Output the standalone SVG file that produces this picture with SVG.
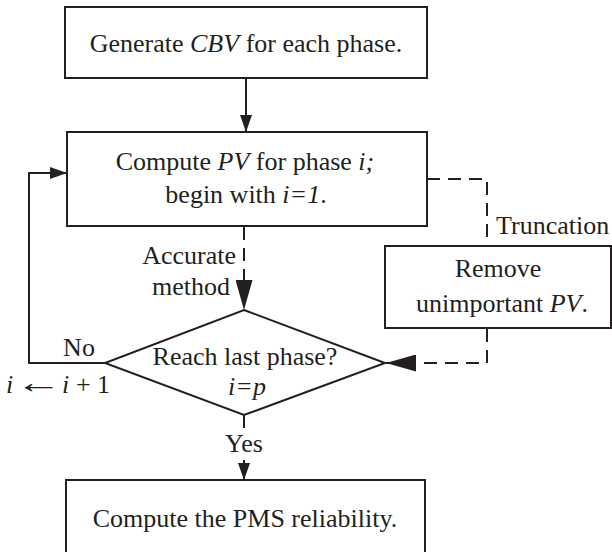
<svg xmlns="http://www.w3.org/2000/svg" width="612" height="552" viewBox="0 0 612 552">
<style>
  .box { fill: #ffffff; stroke: #231f20; stroke-width: 2; }
  .ln { fill: none; stroke: #231f20; stroke-width: 2; }
  .dash { stroke-dasharray: 13 8; }
  text { font-family: "Liberation Serif", "Times New Roman", serif; font-size: 26px; fill: #231f20; }
  .mid { text-anchor: middle; }
  .end { text-anchor: end; }
  .it { font-style: italic; }
</style>
<defs>
  <marker id="arrS" markerUnits="userSpaceOnUse" viewBox="0 0 17 12" refX="17" refY="6" markerWidth="17" markerHeight="12" orient="auto">
    <path d="M0,0 L17,6 L0,12 Z" fill="#231f20"/>
  </marker>
  <marker id="arrL" markerUnits="userSpaceOnUse" viewBox="0 0 30 17" refX="30" refY="8.5" markerWidth="30" markerHeight="17" orient="auto">
    <path d="M0,0 L30,8.5 L0,17 Z" fill="#231f20"/>
  </marker>
</defs>
<rect width="612" height="552" fill="#ffffff"/>

<g id="connectors">
  <line class="ln" x1="246" y1="78" x2="246" y2="132" marker-end="url(#arrS)"/>
  <line class="ln dash" x1="244" y1="227" x2="244" y2="310" marker-end="url(#arrL)"/>
  <polyline class="ln dash" points="427,179 487,179 487,246"/>
  <polyline class="ln dash" points="487,329 487,363 386,363" marker-end="url(#arrL)"/>
  <polyline class="ln" points="105,363 29,363 29,173 67,173" marker-end="url(#arrS)"/>
  <line class="ln" x1="244" y1="415" x2="244" y2="428"/>
  <line class="ln" x1="244" y1="460" x2="244" y2="480" marker-end="url(#arrS)"/>
  <text class="end" x="236" y="264">Accurate</text>
  <text class="end" x="230" y="295">method</text>
  <text x="496" y="234">Truncation</text>
  <text class="mid" x="79" y="356">No</text>
  <text y="393"><tspan class="it" x="6">i</tspan><tspan class="it" x="62">i</tspan><tspan x="76">+</tspan><tspan x="97">1</tspan></text>
  <text transform="translate(15,393) scale(1.8,1.2)">←</text>
  <text class="mid" x="244" y="452">Yes</text>
</g>

<g id="node-generate">
  <rect class="box" x="65" y="7" width="362" height="71"/>
  <text class="mid" x="246" y="52">Generate <tspan class="it">CBV</tspan> for each phase.</text>
</g>

<g id="node-compute-pv">
  <rect class="box" x="67" y="132" width="360" height="94"/>
  <text class="mid" x="245" y="170">Compute <tspan class="it">PV</tspan> for phase <tspan class="it">i;</tspan></text>
  <text class="mid" x="246" y="203">begin with <tspan class="it">i=1</tspan>.</text>
</g>

<g id="node-remove">
  <rect class="box" x="385" y="246" width="226" height="82"/>
  <text class="mid" x="498" y="277">Remove</text>
  <text class="mid" x="502" y="312">unimportant <tspan class="it">PV</tspan>.</text>
</g>

<g id="node-decision">
  <polygon class="box" points="244,310 385,363 244,415 105,363"/>
  <text class="mid" x="245" y="365">Reach last phase?</text>
  <text class="mid it" x="247" y="395">i=p</text>
</g>

<g id="node-reliability">
  <rect class="box" x="66" y="480" width="359" height="90"/>
  <text class="mid" x="245" y="527">Compute the PMS reliability.</text>
</g>
</svg>
